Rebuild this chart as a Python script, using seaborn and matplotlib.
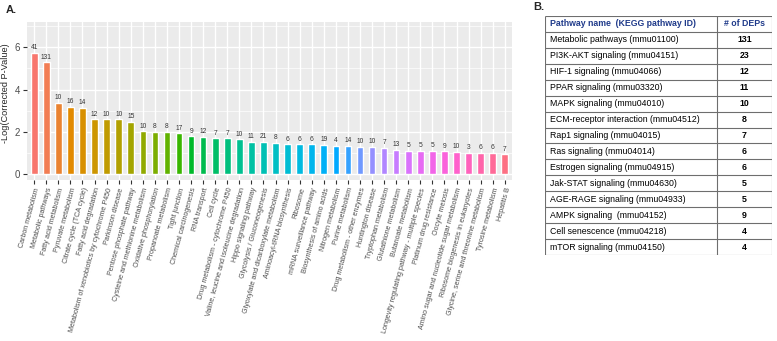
"""KEGG enrichment of DEPs: bar chart of -log(corrected p) plus a summary table."""
import matplotlib
matplotlib.use("Agg")
import matplotlib.pyplot as plt
import seaborn as sns
import pandas as pd
import numpy as np

# %%
# Panel A data
pathways = [
    "Carbon metabolism", "Metabolic pathways", "Fatty acid metabolism",
    "Pyruvate metabolism", "Citrate cycle (TCA cycle)", "Fatty acid degradation",
    "Metabolism of xenobiotics by cytochrome P450", "Parkinson disease",
    "Pentose phosphate pathway", "Cysteine and methionine metabolism",
    "Oxidative phosphorylation", "Propanoate metabolism", "Tight junction",
    "Chemical carcinogenesis", "RNA transport", "Cell cycle",
    "Drug metabolism - cytochrome P450",
    "Valine, leucine and isoleucine degradation", "Hippo signaling pathway",
    "Glycolysis / Gluconeogenesis", "Glyoxylate and dicarboxylate metabolism",
    "Aminoacyl-tRNA biosynthesis", "Ribosome", "mRNA surveillance pathway",
    "Biosynthesis of amino acids", "Nitrogen metabolism", "Purine metabolism",
    "Drug metabolism - other enzymes", "Huntington disease",
    "Tryptophan metabolism", "Glutathione metabolism", "Butanoate metabolism",
    "Longevity regulating pathway - multiple species", "Platinum drug resistance",
    "Oocyte meiosis", "Amino sugar and nucleotide sugar metabolism",
    "Ribosome biogenesis in eukaryotes", "Glycine, serine and threonine metabolism",
    "Tyrosine metabolism", "Hepatitis B",
]
neg_log_p = [
    5.75, 5.29, 3.38, 3.19, 3.14, 2.59, 2.59, 2.59, 2.46, 2.02,
    1.99, 1.99, 1.93, 1.79, 1.75, 1.69, 1.69, 1.64, 1.53, 1.52,
    1.48, 1.41, 1.41, 1.41, 1.37, 1.34, 1.34, 1.29, 1.29, 1.23,
    1.15, 1.10, 1.10, 1.10, 1.07, 1.04, 1.00, 1.00, 1.00, 0.93,
]
dep_counts = [
    41, 131, 10, 16, 14, 12, 10, 10, 15, 10,
    8, 8, 17, 9, 12, 7, 7, 10, 11, 21,
    8, 6, 6, 6, 19, 4, 14, 10, 10, 7,
    13, 5, 5, 5, 9, 10, 3, 6, 6, 7,
]

# Panel B data
table_names = [
    "Metabolic pathways (mmu01100)", "PI3K-AKT signaling (mmu04151)",
    "HIF-1 signaling (mmu04066)", "PPAR signaling (mmu03320)",
    "MAPK signaling (mmu04010)", "ECM-receptor interaction (mmu04512)",
    "Rap1 signaling (mmu04015)", "Ras signaling (mmu04014)",
    "Estrogen signaling (mmu04915)", "Jak-STAT signaling (mmu04630)",
    "AGE-RAGE signaling (mmu04933)", "AMPK signaling  (mmu04152)",
    "Cell senescence (mmu04218)", "mTOR signaling (mmu04150)",
]
table_deps = [131, 23, 12, 11, 10, 8, 7, 6, 6, 5, 5, 9, 4, 4]
table_header = ["Pathway name  (KEGG pathway ID)", "# of DEPs"]


# %%
def hue_pal(n, c=100, l=65):
    """ggplot2-style HCL hue palette."""
    hues = np.linspace(15, 375, n + 1)[:n]
    Xn, Yn, Zn = 95.047, 100.0, 108.883
    un = 4 * Xn / (Xn + 15 * Yn + 3 * Zn)
    vn = 9 * Yn / (Xn + 15 * Yn + 3 * Zn)
    M = np.array([[3.2406, -1.5372, -0.4986],
                  [-0.9689, 1.8758, 0.0415],
                  [0.0557, -0.2040, 1.0570]])
    cols = []
    for h in hues:
        u = c * np.cos(np.radians(h))
        v = c * np.sin(np.radians(h))
        Y = Yn * ((l + 16) / 116) ** 3
        up = u / (13 * l) + un
        vp = v / (13 * l) + vn
        X = Y * 9 * up / (4 * vp)
        Z = Y * (12 - 3 * up - 20 * vp) / (4 * vp)
        rgb = M @ (np.array([X, Y, Z]) / 100)
        rgb = np.where(rgb <= 0.0031308, 12.92 * rgb,
                       1.055 * np.clip(rgb, 0, None) ** (1 / 2.4) - 0.055)
        cols.append(tuple(np.clip(rgb, 0, 1)))
    return cols


df = pd.DataFrame({"pathway": pathways, "value": neg_log_p, "n": dep_counts})

sns.set_theme(style="darkgrid", rc={"axes.facecolor": "#EBEBEB",
                                    "grid.color": "white"})
plt.rcParams["font.family"] = ["Liberation Sans", "DejaVu Sans"]

fig = plt.figure(figsize=(7.77, 3.41), dpi=100)
W, H = 777, 341
ax = fig.add_axes([27 / W, 1 - 180 / H, 485 / W, 158 / H])

sns.barplot(data=df, x="pathway", y="value", hue="pathway",
            palette=hue_pal(len(df)), width=0.55, legend=False,
            saturation=1, ax=ax)

for i, (v, n) in enumerate(zip(neg_log_p, dep_counts)):
    ax.text(i, v + 0.08, str(n), ha="center", va="bottom",
            fontsize=4.8, color="#333333")

ax.set_xlim(-0.6, len(df) - 0.4)
ax.set_ylim(-0.28, 7.2)
ax.set_yticks([0, 2, 4, 6])
ax.set_yticks([1, 3, 5, 7], minor=True)
ax.grid(which="major", color="white", lw=1.0)
ax.grid(which="minor", axis="y", color="white", lw=0.5)
ax.tick_params(axis="both", which="major", length=3, width=0.8,
               color="#333333", direction="out", bottom=True, left=True,
               pad=2)
ax.tick_params(axis="y", labelsize=7, labelcolor="#4D4D4D")
ax.set_xticks(range(len(df)))
ax.set_xticklabels(pathways, rotation=75, ha="right",
                   rotation_mode="anchor", fontsize=5.1, color="#4D4D4D")
ax.set_xlabel("")
ax.set_ylabel("-Log(Corrected P-Value)", fontsize=6.6)
ax.yaxis.set_label_coords(-0.036, 0.55)
for s in ax.spines.values():
    s.set_visible(False)

fig.text(6 / W, 1 - 10 / H, "A.", fontsize=8, fontweight="bold", va="center")
fig.text(533 / W, 1 - 7 / H, "B.", fontsize=8, fontweight="bold", va="center")

# %%
# Panel B: table drawn in its own axes (data coords = pixels)
tx0, tx1, ty0, ty1 = 545, 772, 16, 255
tab = fig.add_axes([tx0 / W, 1 - ty1 / H, (tx1 - tx0) / W, (ty1 - ty0) / H])
tab.set_xlim(tx0, tx1)
tab.set_ylim(ty1, ty0)
tab.axis("off")
nrows = len(table_names) + 1
rh = (ty1 - ty0) / nrows
xdiv = 717
for r in range(nrows + 1):
    tab.plot([tx0, tx1], [ty0 + r * rh] * 2, color="#6E6E6E", lw=0.8,
             solid_capstyle="butt")
for x in (tx0, xdiv, tx1):
    tab.plot([x, x], [ty0, ty1], color="#6E6E6E", lw=0.8,
             solid_capstyle="butt")

tab.text(tx0 + 5, ty0 + rh / 2, table_header[0], fontsize=6.3,
         fontweight="bold", color="#1F3A8A", va="center")
tab.text((xdiv + tx1) / 2, ty0 + rh / 2, table_header[1], fontsize=6.3,
         fontweight="bold", color="#1F3A8A", va="center", ha="center")
for r, (name, n) in enumerate(zip(table_names, table_deps), start=1):
    yc = ty0 + (r + 0.5) * rh
    tab.text(tx0 + 5, yc, name, fontsize=6.3, color="black", va="center")
    tab.text((xdiv + tx1) / 2, yc, str(n), fontsize=6.3, fontweight="bold",
             color="black", va="center", ha="center")

plt.savefig("out.png", dpi=100)
